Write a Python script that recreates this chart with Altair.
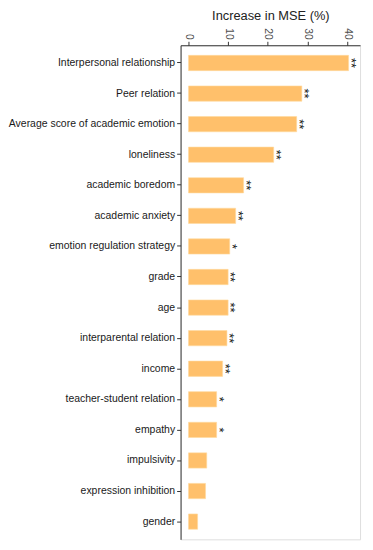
import altair as alt
import pandas as pd

variables = [
    "Interpersonal relationship",
    "Peer relation",
    "Average score of academic emotion",
    "loneliness",
    "academic boredom",
    "academic anxiety",
    "emotion regulation strategy",
    "grade",
    "age",
    "interparental relation",
    "income",
    "teacher-student relation",
    "empathy",
    "impulsivity",
    "expression inhibition",
    "gender",
]
mse_increase = [40.4, 28.6, 27.3, 21.5, 13.9, 11.9, 10.4, 10.0, 10.0, 9.7, 8.6, 7.1, 7.1, 4.6, 4.3, 2.3]
significance = ["**", "**", "**", "**", "**", "**", "*", "**", "**", "**", "**", "*", "*", "", "", ""]
x_ticks = [0, 10, 20, 30, 40]

df = pd.DataFrame({"var": variables, "val": mse_increase, "sig": significance})

FONT = "Liberation Sans"

y_enc = alt.Y(
    "var:N",
    sort=variables,
    scale=alt.Scale(paddingInner=0.5, paddingOuter=0.33),
    axis=alt.Axis(
        title=None,
        labelFontSize=10.6,
        labelColor="#1a1a1a",
        labelFont=FONT,
        labelPadding=2,
        tickSize=4,
        tickColor="#333333",
        domainColor="#333333",
        labelLimit=400,
    ),
)

x_scale = alt.Scale(domain=[-2, 43.3], nice=False, zero=False)

bars = alt.Chart(df).mark_bar(color="#FFC06B", stroke="#FFD9A0", strokeWidth=0.6).encode(
    x=alt.X(
        "val:Q",
        scale=x_scale,
        axis=alt.Axis(
            orient="top",
            values=x_ticks,
            title="Increase in MSE (%)",
            titleFont=FONT,
            titleFontSize=13,
            titleFontWeight="normal",
            titleColor="#222222",
            titlePadding=5,
            labelAngle=90,
            labelFont=FONT,
            labelFontSize=10.5,
            labelColor="#4D4D4D",
            labelPadding=2,
            tickSize=4,
            tickColor="#333333",
            domainColor="#333333",
            grid=False,
        ),
    ),
    x2=alt.datum(0),
    y=y_enc,
)

stars = alt.Chart(df).mark_text(
    angle=90,
    align="center",
    baseline="alphabetic",
    dy=2,
    fontSize=13,
    font=FONT,
    color="#111111",
).encode(
    x=alt.X("val:Q", scale=x_scale),
    y=alt.Y("var:N", sort=variables),
    text="sig:N",
)

chart = (
    alt.layer(bars, stars)
    .properties(
        width=182,
        height=501,
        autosize=alt.AutoSizeParams(type="none"),
        padding={"left": 175, "top": 34, "right": 5, "bottom": 5},
    )
    .configure_view(stroke=None)
    .configure(background="white")
)

chart.save("out.html", embed_options={"renderer": "svg", "actions": False})
